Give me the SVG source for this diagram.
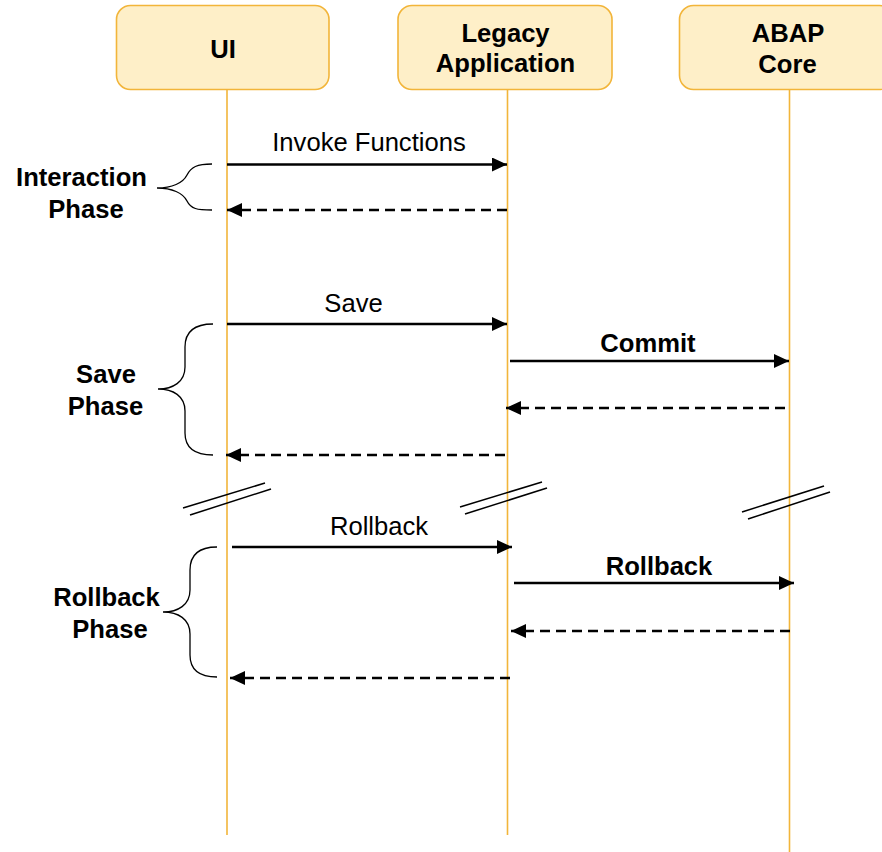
<svg xmlns="http://www.w3.org/2000/svg" width="882" height="852" viewBox="0 0 882 852">
  <style>
    .box { fill: #FEEFC8; stroke: #F2B53A; stroke-width: 1.6; }
    .life { stroke: #F2B53A; stroke-width: 1.6; fill: none; }
    .hdr { font-family: "Liberation Sans", Arial, sans-serif; font-size: 25.6px; font-weight: bold; fill: #000; text-anchor: middle; }
    .lbl { font-family: "Liberation Sans", Arial, sans-serif; font-size: 25.6px; fill: #000; text-anchor: middle; }
    .lblb { font-family: "Liberation Sans", Arial, sans-serif; font-size: 25.6px; font-weight: bold; fill: #000; text-anchor: middle; }
    .msg { stroke: #000; stroke-width: 2.5; fill: none; }
    .ret { stroke: #000; stroke-width: 2.5; fill: none; stroke-dasharray: 10 6; }
    .brace { stroke: #000; stroke-width: 1.3; fill: none; }
    .brk { stroke: #000; stroke-width: 1.5; fill: none; }
  </style>
  <defs>
    <marker id="head" viewBox="0 0 15 14" refX="15" refY="7" markerWidth="15" markerHeight="14" markerUnits="userSpaceOnUse" orient="auto">
      <path d="M0,0 L15,7 L0,14 Z" fill="#000"/>
    </marker>
  </defs>

  <!-- participants -->
  <g id="ui">
    <rect class="box" x="116.5" y="5.5" width="212.5" height="84" rx="14"/>
    <line class="life" x1="227" y1="89.5" x2="227" y2="835"/>
    <text class="hdr" x="223" y="57.5">UI</text>
  </g>
  <g id="legacy">
    <rect class="box" x="398" y="5.5" width="214" height="84" rx="14"/>
    <line class="life" x1="507.5" y1="89.5" x2="507.5" y2="835"/>
    <text class="hdr" x="505.5" y="41.5">Legacy</text>
    <text class="hdr" x="505.5" y="72">Application</text>
  </g>
  <g id="abap">
    <rect class="box" x="679.5" y="5.5" width="214" height="84" rx="14"/>
    <line class="life" x1="789.5" y1="89.5" x2="789.5" y2="852"/>
    <text class="hdr" x="788" y="41.5">ABAP</text>
    <text class="hdr" x="787.5" y="72.5">Core</text>
  </g>

  <!-- phase labels with braces -->
  <g id="interaction-phase">
    <path class="brace" d="M212,164 C197,164 191,167 187,175 C183,183 172,188 157,188 C172,188 183,193 187,201 C191,209 197,210 212,210"/>
    <text class="lblb" x="81.5" y="186">Interaction</text>
    <text class="lblb" x="86" y="218">Phase</text>
  </g>
  <g id="save-phase">
    <path class="brace" d="M213,324 C195,324 185,331 185,347 L185,367 C185,382 173,389 158,389 C173,389 185,396 185,411 L185,433 C185,448 195,455 213,455"/>
    <text class="lblb" x="106" y="383">Save</text>
    <text class="lblb" x="105.5" y="415">Phase</text>
  </g>
  <g id="rollback-phase">
    <path class="brace" d="M217,547 C199,547 190,554 190,570 L190,590 C190,605 178,612 163,612 C178,612 190,619 190,634 L190,655 C190,670 199,677 217,677"/>
    <text class="lblb" x="106.5" y="606">Rollback</text>
    <text class="lblb" x="110" y="638">Phase</text>
  </g>

  <!-- messages -->
  <g id="connectors">
    <line class="msg" x1="227" y1="164.5" x2="507" y2="164.5" marker-end="url(#head)"/>
    <text class="lbl" x="369" y="151">Invoke Functions</text>
    <line class="ret" x1="507" y1="210" x2="227" y2="210" marker-end="url(#head)"/>

    <line class="msg" x1="227" y1="324" x2="507" y2="324" marker-end="url(#head)"/>
    <text class="lbl" x="353.5" y="312">Save</text>
    <line class="msg" x1="510" y1="361" x2="789" y2="361" marker-end="url(#head)"/>
    <text class="lblb" x="648" y="351.5">Commit</text>
    <line class="ret" x1="785" y1="408" x2="506" y2="408" marker-end="url(#head)"/>
    <line class="ret" x1="505" y1="455" x2="226" y2="455" marker-end="url(#head)"/>

    <line class="msg" x1="232" y1="547" x2="512" y2="547" marker-end="url(#head)"/>
    <text class="lbl" x="379" y="535">Rollback</text>
    <line class="msg" x1="514" y1="583" x2="794" y2="583" marker-end="url(#head)"/>
    <text class="lblb" x="659" y="575">Rollback</text>
    <line class="ret" x1="790" y1="631" x2="511" y2="631" marker-end="url(#head)"/>
    <line class="ret" x1="510" y1="678" x2="230" y2="678" marker-end="url(#head)"/>
  </g>

  <!-- time-break marks on lifelines -->
  <g id="breaks">
    <line class="brk" x1="183" y1="508" x2="265" y2="483"/>
    <line class="brk" x1="190" y1="515" x2="271" y2="489"/>
    <line class="brk" x1="460" y1="507" x2="542" y2="482"/>
    <line class="brk" x1="465" y1="514" x2="547" y2="488"/>
    <line class="brk" x1="742" y1="512" x2="824" y2="486"/>
    <line class="brk" x1="748" y1="519" x2="830" y2="492"/>
  </g>
</svg>
